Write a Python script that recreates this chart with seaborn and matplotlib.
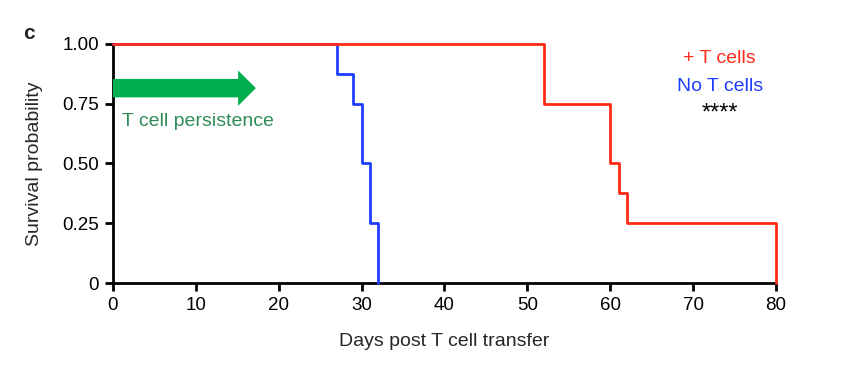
import matplotlib
matplotlib.use("Agg")
import matplotlib.pyplot as plt
import seaborn as sns
import pandas as pd
from matplotlib.patches import FancyArrow

# Data
t_cells_days = [0, 52, 60, 61, 62, 80, 80]
t_cells_surv = [1.0, 0.75, 0.5, 0.375, 0.25, 0.25, 0.0]
no_t_days = [0, 27, 29, 30, 31, 32, 32]
no_t_surv = [1.0, 0.875, 0.75, 0.5, 0.25, 0.25, 0.0]
x_ticks = [0, 10, 20, 30, 40, 50, 60, 70, 80]
y_ticks = [0, 0.25, 0.5, 0.75, 1.0]
y_ticklabels = ["0", "0.25", "0.50", "0.75", "1.00"]

sns.set_theme(style="ticks")
plt.rcParams['font.family'] = ['Liberation Sans', 'DejaVu Sans']

red = "#ff2a17"
blue = "#1f3dff"

df_t = pd.DataFrame({"day": t_cells_days, "surv": t_cells_surv})
df_n = pd.DataFrame({"day": no_t_days, "surv": no_t_surv})

fig = plt.figure(figsize=(8.43, 3.69), dpi=100)
ax = fig.add_axes([0.134, 0.233, 0.7865, 0.648])

sns.lineplot(data=df_n, x="day", y="surv", ax=ax, color=blue, lw=2.0,
             drawstyle="steps-post", estimator=None, sort=False, zorder=3)
sns.lineplot(data=df_t, x="day", y="surv", ax=ax, color=red, lw=2.0,
             drawstyle="steps-post", estimator=None, sort=False, zorder=4)
for ln in ax.lines:
    ln.set_clip_on(False)

ax.set_xlim(0, 80)
ax.set_ylim(0, 1.0)
ax.set_xticks(x_ticks)
ax.set_yticks(y_ticks)
ax.set_yticklabels(y_ticklabels)
ax.tick_params(axis="both", labelsize=13.5, width=2, length=6, color="black",
               labelcolor="black", pad=4)
for s in ["left", "bottom"]:
    ax.spines[s].set_linewidth(2)
    ax.spines[s].set_color("black")
    ax.spines[s].set_zorder(2)
for s in ["top", "right"]:
    ax.spines[s].set_visible(False)
ax.set_xlabel("Days post T cell transfer", fontsize=14, labelpad=14)
ax.set_ylabel("Survival probability", fontsize=14, labelpad=14)

# arrow
ax.add_patch(FancyArrow(0, 0.815, 15.1, 0, width=0.077, head_width=0.148,
                        head_length=2.15, length_includes_head=False,
                        color="#00b04f", lw=0, clip_on=False, zorder=5))
ax.text(1.1, 0.675, "T cell persistence", color="#2e8b57", fontsize=14,
        ha="left", va="center")

ax.text(73.2, 0.94, "+ T cells", color=red, fontsize=14, ha="center", va="center")
ax.text(73.2, 0.82, "No T cells", color=blue, fontsize=14, ha="center", va="center")
ax.text(73.2, 0.71, "****", color="black", fontsize=17, ha="center", va="center")

fig.text(0.027, 0.91, "c", fontsize=15, fontweight="bold", ha="left", va="center")

fig.savefig("out.png", dpi=100)
